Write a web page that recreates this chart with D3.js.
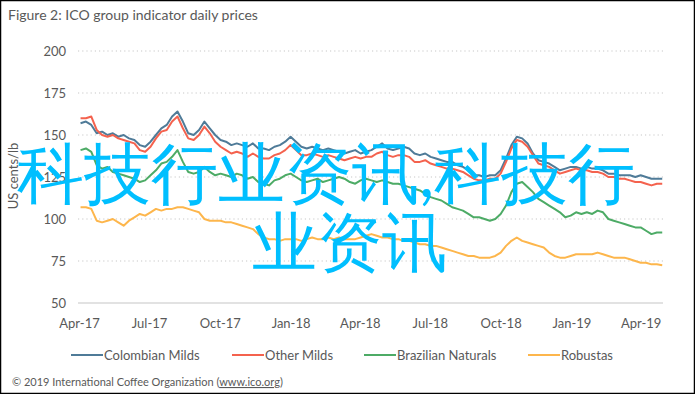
<!DOCTYPE html>
<html>
  <head>
    <meta charset="utf-8">
    <script src="https://d3js.org/d3.v7.min.js"></script>
    <title>ICO group indicator daily prices</title>
    <style>
      body { margin: 0; background: #fff; }
      text { font-family: Lato, "Open Sans", sans-serif; fill: #595959; }
    </style>
  </head>
  <body>

    <svg></svg>

    <script type="text/javascript">

      // weekly readings, first Monday of the series
      var startDate = new Date(2017, 3, 3);

      var colombianMilds = [157,158,156,151,152,150,151,149,150,148,
        147,144,143,146,150,154,156,161,164,158,
        151,150,153,158,154,150,147,146,144,145,
        144,143,145,142,142,141,143,144,146,149,
        146,143,142,143,142,141,142,141,140,139,
        140,141,139,140,141,143,145,142,141,142,
        143,142,139,138,139,137,136,135,134,134,
        132,131,129,126,126,125,126,126,129,136,
        144,149,148,145,139,135,134,133,131,129,
        130,131,131,130,131,130,130,129,127,127,
        126,126,126,125,126,125,124,124,124];

      var otherMilds = [160,160,161,153,150,149,150,148,147,146,
        145,141,140,143,148,152,153,158,161,154,
        148,147,150,155,151,146,143,141,139,140,
        139,137,139,137,136,136,138,139,141,144,
        141,138,138,139,138,137,138,137,136,135,
        136,137,136,137,137,139,140,138,137,138,
        138,137,134,134,135,133,132,131,130,130,
        129,128,126,124,123,123,124,124,127,134,
        142,147,146,143,138,133,132,131,129,127,
        128,129,130,129,129,128,128,127,125,125,
        124,124,123,122,122,121,120,121,121];

      var brazilianNaturals = [141,142,140,132,130,131,128,127,126,125,
        124,122,123,126,129,133,134,137,141,134,
        128,127,128,131,128,126,127,126,125,127,
        126,124,125,122,121,120,123,124,126,127,
        125,123,122,123,124,122,123,124,125,124,
        122,121,123,124,123,122,123,122,121,121,
        120,119,118,117,115,113,112,111,109,107,
        106,105,103,101,101,100,99,100,103,108,
        116,121,122,119,116,112,110,108,106,104,
        101,102,104,103,104,103,105,104,100,99,
        98,97,96,95,95,93,91,92,92];

      var robustas = [107,107,106,99,98,99,100,98,96,99,
        101,103,102,104,106,105,106,106,107,107,
        106,105,104,100,99,99,99,98,98,97,
        96,95,94,91,89,88,88,87,88,88,
        88,87,88,89,88,88,89,88,89,88,
        88,88,89,90,91,90,89,89,88,88,
        87,87,86,85,85,84,84,83,82,81,
        80,79,78,78,77,77,77,78,80,84,
        87,89,87,86,85,84,83,80,78,77,
        77,78,79,79,79,79,80,79,78,77,
        77,77,76,75,74,74,73,73,72.5];

      var seriesNames = ["Colombian Milds", "Other Milds", "Brazilian Naturals", "Robustas"];
      var seriesColors = ["#4f7b98", "#f4624e", "#4dab66", "#fdb64c"];
      var yTicks = [50, 75, 100, 125, 150, 175, 200];
      var xTicks = ["2017-04-01","2017-07-01","2017-10-01","2018-01-01","2018-04-01",
                    "2018-07-01","2018-10-01","2019-01-01","2019-04-01"];

      var width = 695, height = 394;
      var plotLeft = 79, plotRight = 663, plotTop = 51, plotBottom = 303;

      var dates = d3.timeMonday.range(startDate, new Date(2019, 3, 30));
      var allSeries = [colombianMilds, otherMilds, brazilianNaturals, robustas];

      var x = d3.scaleTime()
                .domain([new Date(2017, 3, 1), new Date(2019, 3, 30)])
                .range([plotLeft, plotRight]);
      var y = d3.scaleLinear().domain([50, 200]).range([plotBottom, plotTop]);

      var svg = d3.select("svg")
                  .attr("width", width)
                  .attr("height", height);

      svg.append("rect")
        .attr("x", 0.5).attr("y", 0.5)
        .attr("width", width - 1).attr("height", height - 1)
        .attr("fill", "#fff").attr("stroke", "#000").attr("stroke-width", 1.5);

      svg.append("text")
        .attr("x", 8).attr("y", 20)
        .style("font-size", "14px")
        .text("Figure 2: ICO group indicator daily prices");

      // gridlines
      svg.append("g")
        .selectAll("line")
        .data(yTicks)
        .join("line")
        .attr("x1", plotLeft - 1).attr("x2", plotRight)
        .attr("y1", d => y(d)).attr("y2", d => y(d))
        .attr("stroke", d => d == 50 ? "#d9d9d9" : "#c8c8c8")
        .attr("stroke-width", d => d == 50 ? 1.5 : 1.2)
        .attr("stroke-dasharray", d => d == 50 ? null : "1.2,3");

      var yAxis = svg.append("g")
        .attr("transform", "translate(" + plotLeft + ",0)")
        .call(d3.axisLeft(y).tickValues(yTicks).tickSize(0).tickPadding(13));
      yAxis.select(".domain").remove();
      yAxis.selectAll("text").style("font-size", "13px").style("font-family", "Lato");

      var xAxis = svg.append("g")
        .attr("transform", "translate(0," + plotBottom + ")")
        .call(d3.axisBottom(x)
                .tickValues(xTicks.map(d => d3.timeParse("%Y-%m-%d")(d)))
                .tickFormat(d3.timeFormat("%b-%y"))
                .tickSize(0).tickPadding(16));
      xAxis.select(".domain").remove();
      xAxis.selectAll("text").style("font-size", "13px").style("font-family", "Lato");

      svg.append("text")
        .attr("transform", "translate(18,176) rotate(-90)")
        .attr("text-anchor", "middle")
        .style("font-size", "13px")
        .text("US cents/lb");

      var line = d3.line()
                   .x((d, i) => x(dates[i]))
                   .y(d => y(d));

      svg.append("g")
        .selectAll("path")
        .data(allSeries)
        .join("path")
        .attr("d", d => line(d))
        .attr("fill", "none")
        .attr("stroke", (d, i) => seriesColors[i])
        .attr("stroke-width", 2)
        .attr("stroke-linejoin", "round");

      // legend
      var legendX = [71, 232, 364, 528];
      var legend = svg.append("g")
        .selectAll("g")
        .data(seriesNames)
        .join("g")
        .attr("transform", (d, i) => "translate(" + legendX[i] + ",355)");
      legend.append("line")
        .attr("x1", 0).attr("x2", 32)
        .attr("stroke", (d, i) => seriesColors[i])
        .attr("stroke-width", 2);
      legend.append("text")
        .attr("x", 33).attr("dy", "0.35em")
        .style("font-size", "13px")
        .text(d => d);

      var footer = svg.append("text")
        .attr("x", 12).attr("y", 386)
        .style("font-size", "11px");
      footer.append("tspan").text("© 2019 International Coffee Organization (");
      footer.append("tspan").style("text-decoration", "underline").text("www.ico.org");
      footer.append("tspan").text(")");

      // overlay watermark
      var overlay = svg.append("g")
        .style("font-family", "'Noto Sans CJK SC'")
        .style("fill", "#00bfff");
      overlay.append("text")
        .attr("x", 17).attr("y", 197)
        .style("font-size", "67px")
        .style("fill", "#00bfff")
        .text("科技行业资讯,科技行");
      overlay.append("text")
        .attr("x", 252).attr("y", 265)
        .style("font-size", "65px")
        .style("fill", "#00bfff")
        .text("业资讯");

    </script>
  </body>
</html>
